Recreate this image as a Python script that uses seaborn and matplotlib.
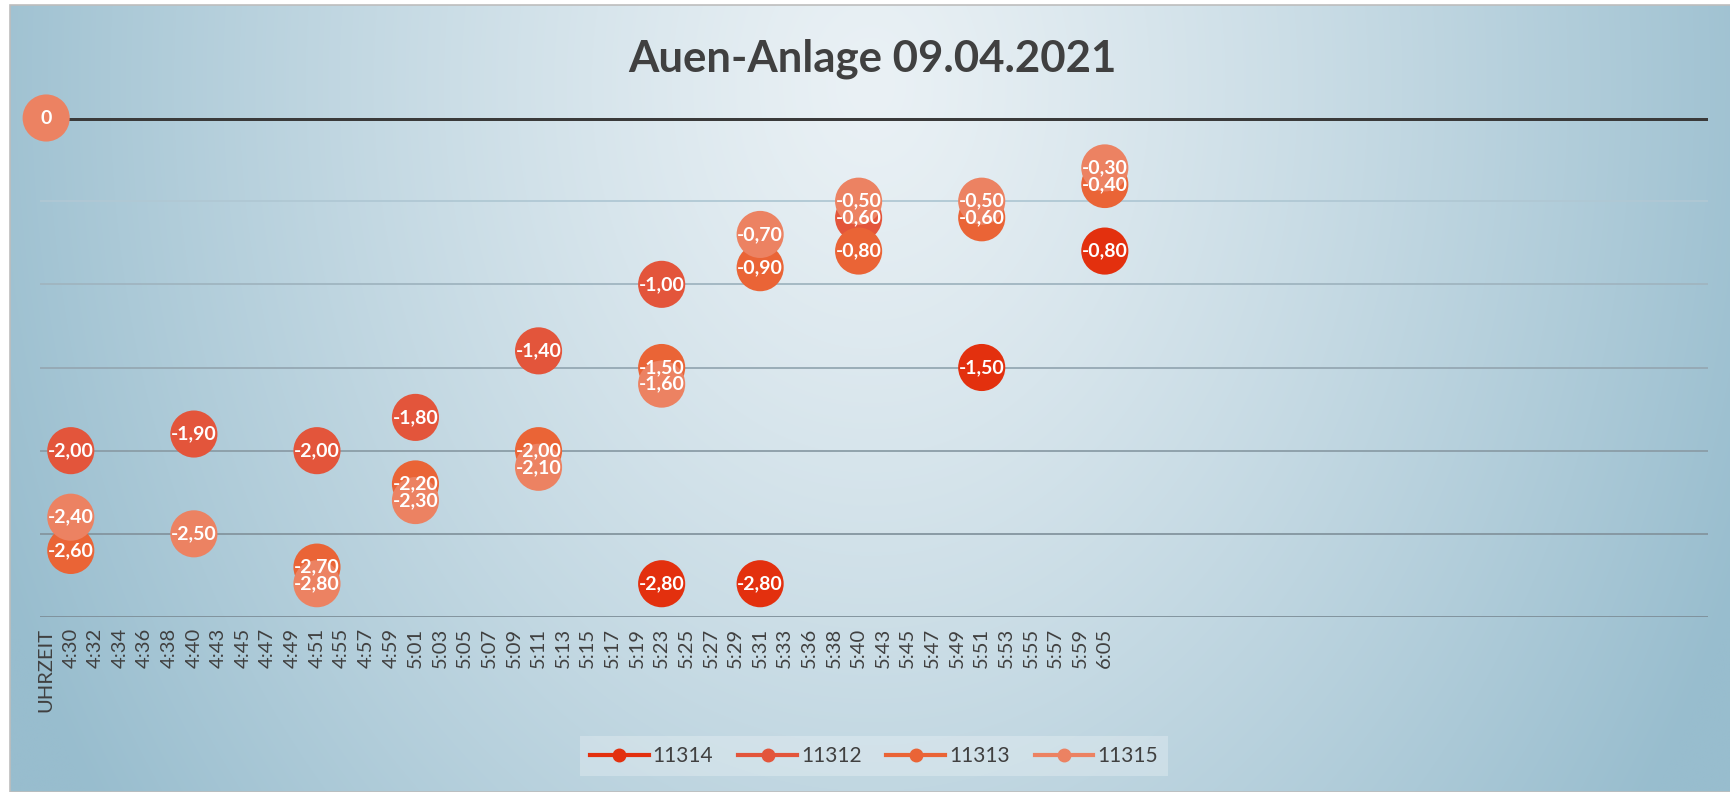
import numpy as np
import pandas as pd
import matplotlib
matplotlib.use("Agg")
import matplotlib.pyplot as plt
import seaborn as sns
from matplotlib.lines import Line2D
from matplotlib.patches import Rectangle

# ---------------- data ----------------
title = "Auen-Anlage 09.04.2021"
categories = ["UHRZEIT", "4:30", "4:32", "4:34", "4:36", "4:38", "4:40", "4:43", "4:45",
              "4:47", "4:49", "4:51", "4:55", "4:57", "4:59", "5:01", "5:03", "5:05",
              "5:07", "5:09", "5:11", "5:13", "5:15", "5:17", "5:19", "5:23", "5:25",
              "5:27", "5:29", "5:31", "5:33", "5:36", "5:38", "5:40", "5:43", "5:45",
              "5:47", "5:49", "5:51", "5:53", "5:55", "5:57", "5:59", "6:05"]

series_names = ["11314", "11312", "11313", "11315"]

s11314_times = ["5:23", "5:31", "5:51", "6:05"]
s11314_vals = [-2.80, -2.80, -1.50, -0.80]

s11312_times = ["4:30", "4:40", "4:51", "5:01", "5:11", "5:23", "5:40"]
s11312_vals = [-2.00, -1.90, -2.00, -1.80, -1.40, -1.00, -0.60]

s11313_times = ["4:30", "4:51", "5:01", "5:11", "5:23", "5:31", "5:40", "5:51", "6:05"]
s11313_vals = [-2.60, -2.70, -2.20, -2.00, -1.50, -0.90, -0.80, -0.60, -0.40]

s11315_times = ["UHRZEIT", "4:30", "4:40", "4:51", "5:01", "5:11", "5:23", "5:31", "5:40", "5:51", "6:05"]
s11315_vals = [0.00, -2.40, -2.50, -2.80, -2.30, -2.10, -1.60, -0.70, -0.50, -0.50, -0.30]

colors = {"11314": "#E3300E", "11312": "#E3553B", "11313": "#EA6436", "11315": "#EC8262"}

# ---------------- build table ----------------
rows = []
for name, times, vals in [("11314", s11314_times, s11314_vals),
                          ("11312", s11312_times, s11312_vals),
                          ("11313", s11313_times, s11313_vals),
                          ("11315", s11315_times, s11315_vals)]:
    for t, v in zip(times, vals):
        rows.append({"series": name, "x": categories.index(t), "value": v})
df = pd.DataFrame(rows)

plt.rcParams['font.family'] = ['Lato', 'DejaVu Sans']

W, H = 1731, 792
fig = plt.figure(figsize=(W / 100, H / 100), dpi=100)
fig.patch.set_facecolor("white")

# ---------------- background gradient ----------------
bg = fig.add_axes([10 / W, 0, 1 - 10 / W, 1 - 5 / H])
yy, xx = np.mgrid[0:H, 0:W]
fx = xx / W
fy = yy / H
d = np.sqrt(((fx - 0.5) / 0.55) ** 2 + ((fy - 0.1) / 1.6) ** 2)
d = np.clip(d, 0, 1) ** 1.2
c0 = np.array([0xEA, 0xF1, 0xF5]) / 255
c1 = np.array([0x98, 0xBD, 0xCE]) / 255
img = c0 + (c1 - c0) * d[..., None]
bg.imshow(img, aspect="auto", extent=(0, 1, 0, 1), origin="upper")
bg.set_xlim(0, 1)
bg.set_ylim(0, 1)
bg.axis("off")
fig.patches.append(Rectangle((10 / W, 0), 1 - 10 / W, 1 - 5 / H, transform=fig.transFigure,
                             fill=False, edgecolor="#BDBDBD", lw=1.2, zorder=0.5))

# ---------------- main axes ----------------
ax = fig.add_axes([40 / W, 1 - 617 / H, (1708 - 40) / W, (617 - 118) / H])
ax.set_facecolor("none")

sns.scatterplot(data=df, x="x", y="value", hue="series", hue_order=series_names,
                palette=colors, s=1150, linewidth=0, legend=False, ax=ax,
                zorder=3, clip_on=False)

for _, r in df.iterrows():
    v = r["value"]
    lab = "0" if v == 0 else f"{v:.2f}".replace(".", ",")
    ax.text(r["x"], v, lab, ha="center", va="center", color="white",
            fontsize=14, fontweight="bold", zorder=5, clip_on=False)

ax.set_xlim(-0.25, 67.5)
ax.set_ylim(-3, 0)
grid_levels = np.arange(-0.5, -3.01, -0.5)
grid_colors = ["#B0C8D4", "#A0B5C0", "#95A8B3", "#8B9DA7", "#84959F", "#7E8F99"]
for lvl, gc in zip(grid_levels, grid_colors):
    ax.axhline(lvl, color=gc, lw=1.3, zorder=1)
ax.axhline(0, color="#3A3A3A", lw=3.6, zorder=2)
ax.set_yticks([])
ax.grid(False)
for s in ax.spines.values():
    s.set_visible(False)
ax.set_xticks(range(len(categories)))
ax.set_xticklabels(categories, rotation=90, fontsize=14.5, color="#404040")
ax.tick_params(axis="both", length=0)
ax.tick_params(axis="x", pad=8)
ax.set_xlabel("")
ax.set_ylabel("")

fig.text(872 / W, 1 - 59 / H, title, ha="center", va="center", fontsize=31.5,
         fontweight="bold", color="#404040")

handles = [Line2D([0], [0], color=colors[n], lw=3, marker="o", markersize=9) for n in series_names]
leg = fig.legend(handles, series_names, loc="center", bbox_to_anchor=(874 / W, 1 - 756 / H),
                 ncol=4, frameon=True, facecolor="white", framealpha=0.25, edgecolor="none",
                 fontsize=15, handlelength=2.8, handletextpad=0.2, columnspacing=1.2,
                 borderpad=0.5, fancybox=False, labelcolor="#404040")

fig.savefig("out.png", dpi=100)
